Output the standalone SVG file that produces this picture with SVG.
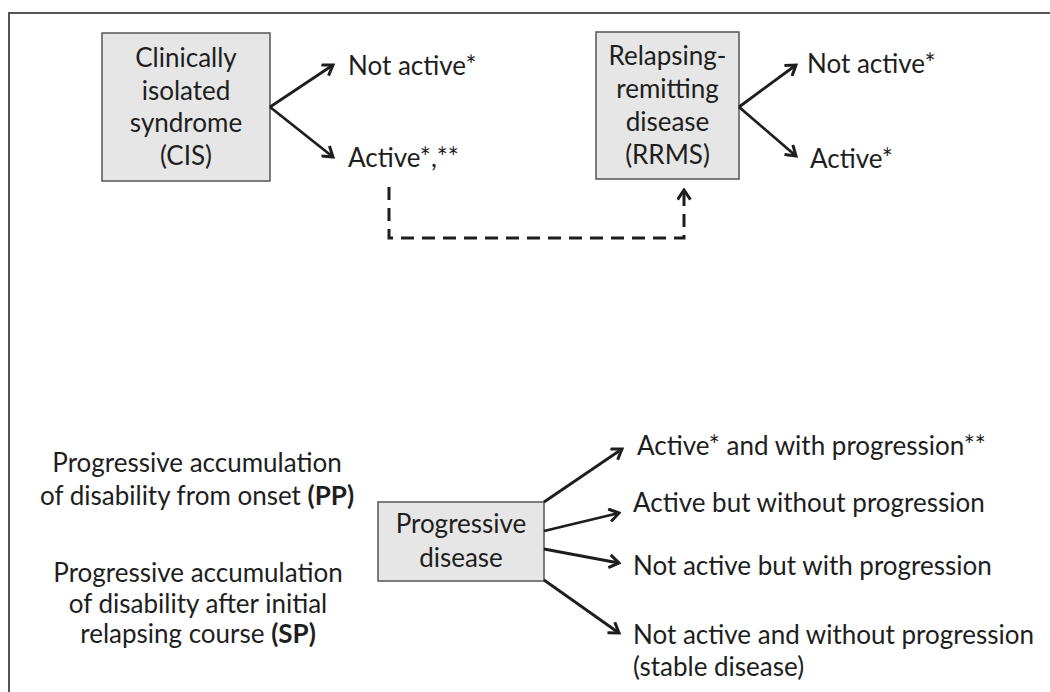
<svg xmlns="http://www.w3.org/2000/svg" width="1050" height="692" viewBox="0 0 1050 692">
<style>
.t{font-family:Lato,"Liberation Sans",sans-serif;font-size:26px;fill:#1e1e1e}
.c{text-anchor:middle}
.b{font-weight:bold}
.box{fill:#e6e6e6;stroke:#555;stroke-width:1.5}
.arr{fill:none;stroke:#1e1e1e;stroke-width:2.8;marker-end:url(#ah)}
.dash{fill:none;stroke:#1e1e1e;stroke-width:3;stroke-dasharray:13 8;marker-end:url(#ah)}
</style>
<defs>
<marker id="ah" viewBox="0 0 14 14" refX="12" refY="7" markerWidth="15" markerHeight="15" markerUnits="userSpaceOnUse" orient="auto">
<path d="M3,1 L12,7 L3,13" fill="none" stroke="#1e1e1e" stroke-width="2.8"/>
</marker>
</defs>
<rect width="1050" height="692" fill="#fff"/>
<path d="M9,700 V13 H1060" fill="none" stroke="#555" stroke-width="2"/>

<g id="cis">
<rect class="box" x="102" y="33" width="168" height="148"/>
<text class="t c" x="186" y="67">Clinically</text>
<text class="t c" x="186" y="99.5">isolated</text>
<text class="t c" x="186" y="132">syndrome</text>
<text class="t c" x="186" y="165">(CIS)</text>
</g>
<g id="cis-notactive"><text class="t" x="348" y="75">Not active*</text></g>
<g id="cis-active"><text class="t" x="348" y="167">Active*,**</text></g>

<g id="rrms">
<rect class="box" x="596" y="32" width="143" height="147"/>
<text class="t c" x="667.5" y="65">Relapsing-</text>
<text class="t c" x="667.5" y="98">remitting</text>
<text class="t c" x="667.5" y="131">disease</text>
<text class="t c" x="667.5" y="164">(RRMS)</text>
</g>
<g id="rrms-notactive"><text class="t" x="807" y="73">Not active*</text></g>
<g id="rrms-active"><text class="t" x="810" y="168">Active*</text></g>

<g id="progressive">
<rect class="box" x="378" y="502" width="166" height="79"/>
<text class="t c" x="461" y="533">Progressive</text>
<text class="t c" x="461" y="567">disease</text>
</g>
<g id="pp">
<text class="t c" x="197" y="472">Progressive accumulation</text>
<text class="t c" x="197" y="505">of disability from onset <tspan class="b">(PP)</tspan></text>
</g>
<g id="sp">
<text class="t c" x="198" y="582">Progressive accumulation</text>
<text class="t c" x="198" y="613">of disability after initial</text>
<text class="t c" x="198" y="643">relapsing course <tspan class="b">(SP)</tspan></text>
</g>
<g id="o1"><text class="t" x="637" y="455">Active* and with progression**</text></g>
<g id="o2"><text class="t" x="633" y="512">Active but without progression</text></g>
<g id="o3"><text class="t" x="633" y="575">Not active but with progression</text></g>
<g id="o4">
<text class="t" x="633" y="644">Not active and without progression</text>
<text class="t" x="633" y="676">(stable disease)</text>
</g>

<g id="connectors">
<path class="arr" d="M270,107 L333,65"/>
<path class="arr" d="M270,107 L333,157"/>
<path class="arr" d="M739,107 L796,65"/>
<path class="arr" d="M739,107 L796,156"/>
<path class="dash" d="M389,187 V238 H684 V190"/>
<path class="arr" d="M544,502 L622,449"/>
<path class="arr" d="M544,531 L619,513"/>
<path class="arr" d="M544,549 L619,563"/>
<path class="arr" d="M544,580 L619,633"/>
</g>
</svg>
